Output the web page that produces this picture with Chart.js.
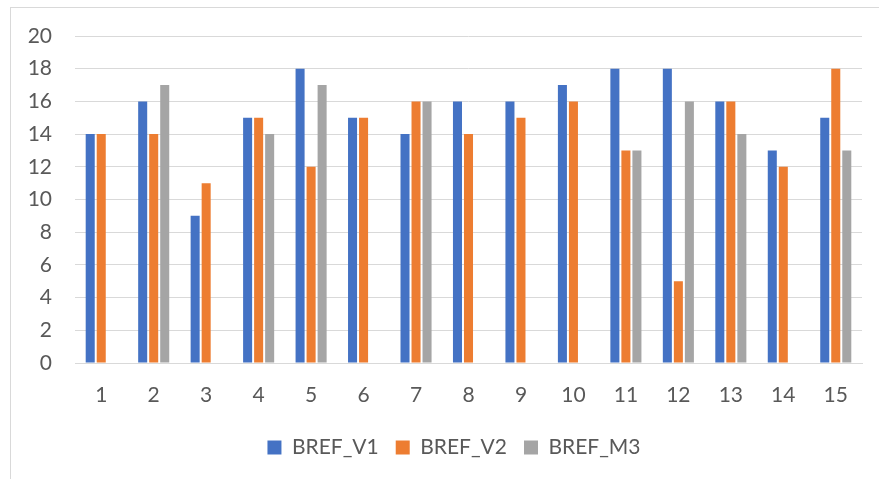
<!DOCTYPE html>
<html>
<head>
<meta charset="utf-8">
<script src="https://cdn.jsdelivr.net/npm/chart.js@4.4.1/dist/chart.umd.min.js"></script>
<style>
  html, body { margin: 0; padding: 0; background: #fff; overflow: hidden; }
  #frame {
    position: absolute; left: 10px; top: 7px;
    width: 900px; height: 500px;
    border: 1px solid #d9d9d9;
  }
  #wrap { position: absolute; left: 0; top: 0; width: 879px; height: 479px; }
</style>
</head>
<body>
<div id="frame"></div>
<div id="wrap"><canvas id="chart" width="879" height="479"></canvas></div>
<script>
// Chart data
const categories = ['1','2','3','4','5','6','7','8','9','10','11','12','13','14','15'];
const brefV1 = [14, 16, 9, 15, 18, 15, 14, 16, 16, 17, 18, 18, 16, 13, 15];
const brefV2 = [14, 14, 11, 15, 12, 15, 16, 14, 15, 16, 13, 5, 16, 12, 18];
const brefM3 = [null, 17, null, 14, 17, null, 16, null, null, null, 13, 16, 14, null, 13];

const fontFamily = 'Lato, "Open Sans", sans-serif';
const textColor = '#595959';

// excel centres the legend in its (wider) frame, so nudge it right a bit
const legendShift = {
    id: 'legendShift',
    afterLayout(chart) {
        chart.legend.left += 23;
        chart.legend.right += 23;
    }
};

new Chart(document.getElementById('chart'), {
    type: 'bar',
    data: {
        labels: categories,
        datasets: [
            { label: 'BREF_V1', data: brefV1, backgroundColor: '#4472C4' },
            { label: 'BREF_V2', data: brefV2, backgroundColor: '#ED7D31' },
            { label: 'BREF_M3', data: brefM3, backgroundColor: '#A5A5A5' }
        ]
    },
    options: {
        responsive: false,
        animation: false,
        categoryPercentage: 0.63,
        barPercentage: 0.82,
        layout: { padding: { left: 0, right: 17, top: 36, bottom: 11 } },
        plugins: {
            tooltip: { enabled: false },
            legend: {
                position: 'bottom',
                labels: {
                    boxWidth: 14,
                    boxHeight: 14,
                    padding: 17,
                    color: textColor,
                    font: { family: fontFamily, size: 21 }
                }
            }
        },
        scales: {
            x: {
                grid: { display: false, drawTicks: false },
                border: { display: true, color: '#d9d9d9', width: 1 },
                ticks: { color: textColor, padding: 20, font: { family: fontFamily, size: 21 } },
                afterFit: (scale) => { scale.height = 57; }
            },
            y: {
                min: 0,
                max: 20,
                grid: { color: '#d9d9d9', lineWidth: 1, drawTicks: false },
                border: { display: false },
                ticks: { stepSize: 2, color: textColor, padding: 23, font: { family: fontFamily, size: 21 } },
                afterFit: (scale) => { scale.width = 75; }
            }
        }
    },
    plugins: [legendShift]
});
</script>
</body>
</html>
